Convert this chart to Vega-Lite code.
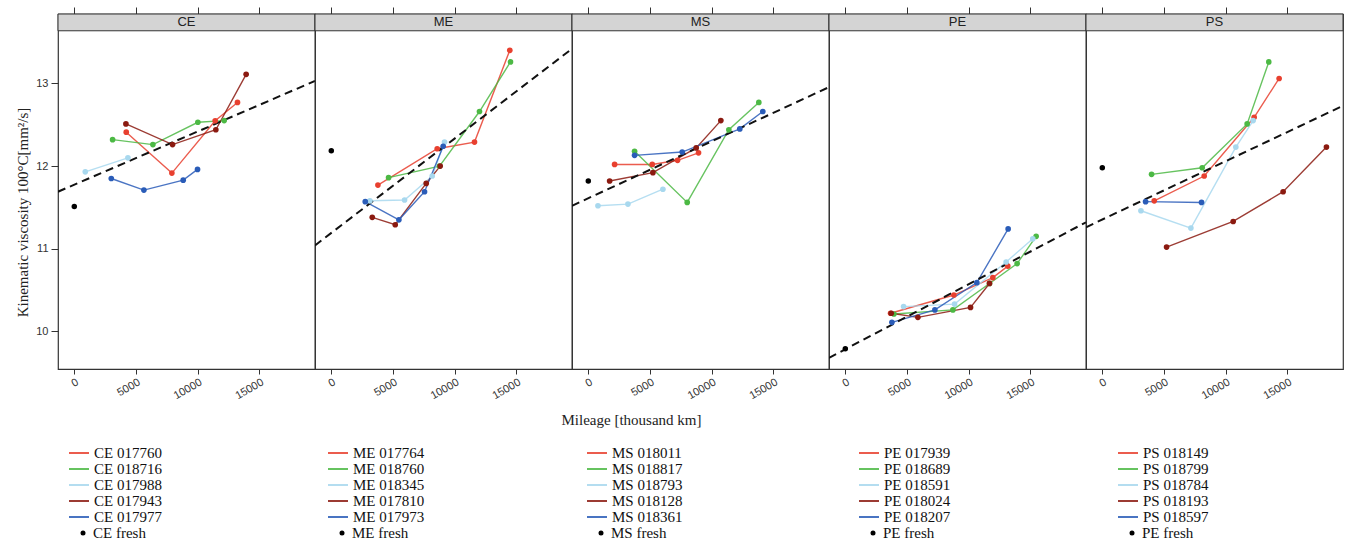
{
"$schema": "https://vega.github.io/schema/vega-lite/v6.json",
"padding": {"left": 15, "top": 5, "right": 5, "bottom": 0},
"background": "white",
"datasets": {
 "fit": [
  {"panel":"CE","mileage":-1320,"viscosity":11.69},{"panel":"CE","mileage":19500,"viscosity":13.03},
  {"panel":"ME","mileage":-1320,"viscosity":11.04},{"panel":"ME","mileage":19500,"viscosity":13.42},
  {"panel":"MS","mileage":-1320,"viscosity":11.52},{"panel":"MS","mileage":19500,"viscosity":12.955},
  {"panel":"PE","mileage":-1320,"viscosity":9.68},{"panel":"PE","mileage":19500,"viscosity":11.32},
  {"panel":"PS","mileage":-1320,"viscosity":11.26},{"panel":"PS","mileage":19500,"viscosity":12.73}
 ],
 "fresh": [
  {"panel":"CE","series":"CE fresh","mileage":0,"viscosity":11.51},
  {"panel":"ME","series":"ME fresh","mileage":0,"viscosity":12.185},
  {"panel":"MS","series":"MS fresh","mileage":0,"viscosity":11.82},
  {"panel":"PE","series":"PE fresh","mileage":0,"viscosity":9.79},
  {"panel":"PS","series":"PE fresh","mileage":0,"viscosity":11.98}
 ],
 "obs": [
  {"panel":"CE","series":"CE 017760","mileage":4209,"viscosity":12.41},
  {"panel":"CE","series":"CE 017760","mileage":7905,"viscosity":11.915},
  {"panel":"CE","series":"CE 017760","mileage":11413,"viscosity":12.548},
  {"panel":"CE","series":"CE 017760","mileage":13220,"viscosity":12.77},
  {"panel":"CE","series":"CE 018716","mileage":3103,"viscosity":12.32},
  {"panel":"CE","series":"CE 018716","mileage":6367,"viscosity":12.26},
  {"panel":"CE","series":"CE 018716","mileage":10009,"viscosity":12.53},
  {"panel":"CE","series":"CE 018716","mileage":12141,"viscosity":12.55},
  {"panel":"CE","series":"CE 017988","mileage":890,"viscosity":11.93},
  {"panel":"CE","series":"CE 017988","mileage":4344,"viscosity":12.10},
  {"panel":"CE","series":"CE 017943","mileage":4182,"viscosity":12.51},
  {"panel":"CE","series":"CE 017943","mileage":7959,"viscosity":12.26},
  {"panel":"CE","series":"CE 017943","mileage":11467,"viscosity":12.44},
  {"panel":"CE","series":"CE 017943","mileage":13922,"viscosity":13.11},
  {"panel":"CE","series":"CE 017977","mileage":2995,"viscosity":11.85},
  {"panel":"CE","series":"CE 017977","mileage":5639,"viscosity":11.71},
  {"panel":"CE","series":"CE 017977","mileage":8822,"viscosity":11.83},
  {"panel":"CE","series":"CE 017977","mileage":9983,"viscosity":11.96},

  {"panel":"ME","series":"ME 017764","mileage":3777,"viscosity":11.77},
  {"panel":"ME","series":"ME 017764","mileage":8580,"viscosity":12.21},
  {"panel":"ME","series":"ME 017764","mileage":11601,"viscosity":12.29},
  {"panel":"ME","series":"ME 017764","mileage":14461,"viscosity":13.40},
  {"panel":"ME","series":"ME 018760","mileage":4641,"viscosity":11.86},
  {"panel":"ME","series":"ME 018760","mileage":8769,"viscosity":12.0},
  {"panel":"ME","series":"ME 018760","mileage":12006,"viscosity":12.66},
  {"panel":"ME","series":"ME 018760","mileage":14515,"viscosity":13.26},
  {"panel":"ME","series":"ME 018345","mileage":3130,"viscosity":11.58},
  {"panel":"ME","series":"ME 018345","mileage":5936,"viscosity":11.59},
  {"panel":"ME","series":"ME 018345","mileage":8175,"viscosity":11.88},
  {"panel":"ME","series":"ME 018345","mileage":9173,"viscosity":12.29},
  {"panel":"ME","series":"ME 017810","mileage":3318,"viscosity":11.38},
  {"panel":"ME","series":"ME 017810","mileage":5180,"viscosity":11.29},
  {"panel":"ME","series":"ME 017810","mileage":7689,"viscosity":11.79},
  {"panel":"ME","series":"ME 017810","mileage":8823,"viscosity":12.0},
  {"panel":"ME","series":"ME 017973","mileage":2752,"viscosity":11.57},
  {"panel":"ME","series":"ME 017973","mileage":5477,"viscosity":11.35},
  {"panel":"ME","series":"ME 017973","mileage":7554,"viscosity":11.69},
  {"panel":"ME","series":"ME 017973","mileage":9065,"viscosity":12.24},

  {"panel":"MS","series":"MS 018011","mileage":2131,"viscosity":12.02},
  {"panel":"MS","series":"MS 018011","mileage":5180,"viscosity":12.02},
  {"panel":"MS","series":"MS 018011","mileage":7231,"viscosity":12.07},
  {"panel":"MS","series":"MS 018011","mileage":8930,"viscosity":12.16},
  {"panel":"MS","series":"MS 018817","mileage":3750,"viscosity":12.18},
  {"panel":"MS","series":"MS 018817","mileage":8013,"viscosity":11.56},
  {"panel":"MS","series":"MS 018817","mileage":11386,"viscosity":12.44},
  {"panel":"MS","series":"MS 018817","mileage":13814,"viscosity":12.77},
  {"panel":"MS","series":"MS 018793","mileage":782,"viscosity":11.52},
  {"panel":"MS","series":"MS 018793","mileage":3211,"viscosity":11.54},
  {"panel":"MS","series":"MS 018793","mileage":6044,"viscosity":11.72},
  {"panel":"MS","series":"MS 018128","mileage":1727,"viscosity":11.82},
  {"panel":"MS","series":"MS 018128","mileage":5234,"viscosity":11.92},
  {"panel":"MS","series":"MS 018128","mileage":8742,"viscosity":12.22},
  {"panel":"MS","series":"MS 018128","mileage":10738,"viscosity":12.55},
  {"panel":"MS","series":"MS 018361","mileage":3750,"viscosity":12.13},
  {"panel":"MS","series":"MS 018361","mileage":7608,"viscosity":12.17},
  {"panel":"MS","series":"MS 018361","mileage":12276,"viscosity":12.45},
  {"panel":"MS","series":"MS 018361","mileage":14137,"viscosity":12.66},

  {"panel":"PE","series":"PE 017939","mileage":3669,"viscosity":10.22},
  {"panel":"PE","series":"PE 017939","mileage":8796,"viscosity":10.44},
  {"panel":"PE","series":"PE 017939","mileage":11953,"viscosity":10.65},
  {"panel":"PE","series":"PE 017939","mileage":13167,"viscosity":10.79},
  {"panel":"PE","series":"PE 018689","mileage":3939,"viscosity":10.21},
  {"panel":"PE","series":"PE 018689","mileage":8715,"viscosity":10.26},
  {"panel":"PE","series":"PE 018689","mileage":11683,"viscosity":10.58},
  {"panel":"PE","series":"PE 018689","mileage":13922,"viscosity":10.82},
  {"panel":"PE","series":"PE 018689","mileage":15460,"viscosity":11.15},
  {"panel":"PE","series":"PE 018591","mileage":4722,"viscosity":10.30},
  {"panel":"PE","series":"PE 018591","mileage":8850,"viscosity":10.33},
  {"panel":"PE","series":"PE 018591","mileage":13032,"viscosity":10.84},
  {"panel":"PE","series":"PE 018591","mileage":15190,"viscosity":11.12},
  {"panel":"PE","series":"PE 018024","mileage":3723,"viscosity":10.22},
  {"panel":"PE","series":"PE 018024","mileage":5882,"viscosity":10.17},
  {"panel":"PE","series":"PE 018024","mileage":10145,"viscosity":10.29},
  {"panel":"PE","series":"PE 018024","mileage":11683,"viscosity":10.58},
  {"panel":"PE","series":"PE 018207","mileage":3777,"viscosity":10.11},
  {"panel":"PE","series":"PE 018207","mileage":7258,"viscosity":10.26},
  {"panel":"PE","series":"PE 018207","mileage":10657,"viscosity":10.59},
  {"panel":"PE","series":"PE 018207","mileage":13193,"viscosity":11.24},

  {"panel":"PS","series":"PS 018149","mileage":4209,"viscosity":11.58},
  {"panel":"PS","series":"PS 018149","mileage":8256,"viscosity":11.88},
  {"panel":"PS","series":"PS 018149","mileage":12303,"viscosity":12.59},
  {"panel":"PS","series":"PS 018149","mileage":14326,"viscosity":13.06},
  {"panel":"PS","series":"PS 018799","mileage":3993,"viscosity":11.90},
  {"panel":"PS","series":"PS 018799","mileage":8094,"viscosity":11.98},
  {"panel":"PS","series":"PS 018799","mileage":11736,"viscosity":12.51},
  {"panel":"PS","series":"PS 018799","mileage":13490,"viscosity":13.26},
  {"panel":"PS","series":"PS 018784","mileage":3130,"viscosity":11.46},
  {"panel":"PS","series":"PS 018784","mileage":7177,"viscosity":11.25},
  {"panel":"PS","series":"PS 018784","mileage":10819,"viscosity":12.23},
  {"panel":"PS","series":"PS 018784","mileage":12222,"viscosity":12.55},
  {"panel":"PS","series":"PS 018193","mileage":5207,"viscosity":11.02},
  {"panel":"PS","series":"PS 018193","mileage":10603,"viscosity":11.33},
  {"panel":"PS","series":"PS 018193","mileage":14650,"viscosity":11.69},
  {"panel":"PS","series":"PS 018193","mileage":18158,"viscosity":12.23},
  {"panel":"PS","series":"PS 018597","mileage":3507,"viscosity":11.57},
  {"panel":"PS","series":"PS 018597","mileage":8040,"viscosity":11.56}
 ]
},
"bounds": "flush",
"hconcat": [
 {
  "width": 257, "height": 355,
  "resolve": {"axis": {"x": "independent"}},
  "layer": [
   {"data":{"values":[{"panel":"CE"}]},"mark":{"type":"rect","fill":"#d4d4d4","stroke":"#333","strokeWidth":1},
    "encoding":{"x":{"datum":-1320,"type":"quantitative","scale":{"domain":[-1320,19500],"nice":false,"zero":false},"axis":{"orient":"top","values":[0,5000,10000,15000],"labels":false,"grid":false,"tickSize":7,"title":null}},"x2":{"datum":19500},
     "y":{"datum":13.637,"type":"quantitative","scale":{"domain":[9.545,13.84],"nice":false,"zero":false},"title":"Kinematic viscosity 100°C[mm²/s]"},"y2":{"datum":13.84}}},
   {"data":{"values":[{"panel":"CE"}]},"mark":{"type":"text","font":"Liberation Sans","fontSize":13,"color":"#222"},
    "encoding":{"x":{"datum":9090,"type":"quantitative","axis":null},"y":{"datum":13.738,"type":"quantitative","title":"Kinematic viscosity 100°C[mm²/s]"},"text":{"field":"panel"}}},
   {"data":{"name":"obs"},"transform":[{"filter":"datum.panel==='CE'"}],"mark":{"type":"line","strokeWidth":1.4,"opacity":0.85},
    "encoding":{
     "x":{"field":"mileage","type":"quantitative","title":"Mileage [thousand km]","axis":{"values":[0,5000,10000,15000],"format":"d","labelAngle":-30,"titleColor":"transparent"}},
     "y":{"field":"viscosity","type":"quantitative","title":"Kinematic viscosity 100°C[mm²/s]","axis":{"values":[10,11,12,13],"format":"d","tickSize":7,"labelPadding":3,"titlePadding":5,"titleY":198}},
     "color":{"field":"series","type":"nominal","scale":{"domain":["CE 017760","CE 018716","CE 017988","CE 017943","CE 017977"],"range":["#e8402f","#4cb944","#a8d8ee","#8b1a10","#2a5cb8"]},
      "legend":{"orient":"none","legendX":10,"legendY":432,"title":null,"symbolType":"stroke","symbolSize":400,"symbolStrokeWidth":2,"clipHeight":14,"rowPadding":1,"labelFont":"Liberation Serif","labelFontSize":15,"labelColor":"#111"}}}},
   {"data":{"name":"fit"},"transform":[{"filter":"datum.panel==='CE'"}],"mark":{"type":"line","color":"#111","strokeWidth":2,"strokeDash":[8,5],"clip":true},
    "encoding":{"x":{"field":"mileage","type":"quantitative","axis":null},"y":{"field":"viscosity","type":"quantitative","title":"Kinematic viscosity 100°C[mm²/s]"}}},
   {"data":{"name":"obs"},"transform":[{"filter":"datum.panel==='CE'"}],"mark":{"type":"point","filled":true,"size":32,"opacity":1},
    "encoding":{"x":{"field":"mileage","type":"quantitative","axis":null},"y":{"field":"viscosity","type":"quantitative","title":"Kinematic viscosity 100°C[mm²/s]"},"color":{"field":"series","type":"nominal"}}},
   {"data":{"name":"fresh"},"transform":[{"filter":"datum.panel==='CE'"}],"mark":{"type":"point","filled":true,"size":30,"opacity":1,"color":"#000000"},
    "encoding":{"x":{"field":"mileage","type":"quantitative","axis":null},"y":{"field":"viscosity","type":"quantitative","title":"Kinematic viscosity 100°C[mm²/s]"},
     "shape":{"field":"series","type":"nominal","scale":{"domain":["CE fresh"],"range":["circle"]},
      "legend":{"orient":"none","legendX":17.5,"legendY":512,"title":null,"symbolSize":25,"symbolFillColor":"#000000","symbolStrokeColor":"#000000","symbolStrokeWidth":0,"labelOffset":2.5,"clipHeight":14,"labelFont":"Liberation Serif","labelFontSize":15,"labelColor":"#111"}}}}
  ]
 },
 {
  "width": 257, "height": 355,
  "resolve": {"axis": {"x": "independent"}},
  "layer": [
   {"data":{"values":[{"panel":"ME"}]},"mark":{"type":"rect","fill":"#d4d4d4","stroke":"#333","strokeWidth":1},
    "encoding":{"x":{"datum":-1320,"type":"quantitative","scale":{"domain":[-1320,19500],"nice":false,"zero":false},"axis":{"orient":"top","values":[0,5000,10000,15000],"labels":false,"grid":false,"tickSize":7,"title":null}},"x2":{"datum":19500},
     "y":{"datum":13.637,"type":"quantitative","scale":{"domain":[9.545,13.84],"nice":false,"zero":false},"axis":null},"y2":{"datum":13.84}}},
   {"data":{"values":[{"panel":"ME"}]},"mark":{"type":"text","font":"Liberation Sans","fontSize":13,"color":"#222"},
    "encoding":{"x":{"datum":9090,"type":"quantitative","axis":null},"y":{"datum":13.738,"type":"quantitative","axis":null},"text":{"field":"panel"}}},
   {"data":{"name":"obs"},"transform":[{"filter":"datum.panel==='ME'"}],"mark":{"type":"line","strokeWidth":1.4,"opacity":0.85},
    "encoding":{
     "x":{"field":"mileage","type":"quantitative","title":"Mileage [thousand km]","axis":{"values":[0,5000,10000,15000],"format":"d","labelAngle":-30,"titleColor":"transparent"}},
     "y":{"field":"viscosity","type":"quantitative","axis":{"values":[10,11,12,13],"labels":false,"ticks":false,"grid":true,"title":null}},
     "color":{"field":"series","type":"nominal","scale":{"domain":["ME 017764","ME 018760","ME 018345","ME 017810","ME 017973"],"range":["#e8402f","#4cb944","#a8d8ee","#8b1a10","#2a5cb8"]},
      "legend":{"orient":"none","legendX":12,"legendY":432,"title":null,"symbolType":"stroke","symbolSize":400,"symbolStrokeWidth":2,"clipHeight":14,"rowPadding":1,"labelFont":"Liberation Serif","labelFontSize":15,"labelColor":"#111"}}}},
   {"data":{"name":"fit"},"transform":[{"filter":"datum.panel==='ME'"}],"mark":{"type":"line","color":"#111","strokeWidth":2,"strokeDash":[8,5],"clip":true},
    "encoding":{"x":{"field":"mileage","type":"quantitative","axis":null},"y":{"field":"viscosity","type":"quantitative","axis":null}}},
   {"data":{"name":"obs"},"transform":[{"filter":"datum.panel==='ME'"}],"mark":{"type":"point","filled":true,"size":32,"opacity":1},
    "encoding":{"x":{"field":"mileage","type":"quantitative","axis":null},"y":{"field":"viscosity","type":"quantitative","axis":null},"color":{"field":"series","type":"nominal"}}},
   {"data":{"name":"fresh"},"transform":[{"filter":"datum.panel==='ME'"}],"mark":{"type":"point","filled":true,"size":30,"opacity":1,"color":"#000000"},
    "encoding":{"x":{"field":"mileage","type":"quantitative","axis":null},"y":{"field":"viscosity","type":"quantitative","axis":null},
     "shape":{"field":"series","type":"nominal","scale":{"domain":["ME fresh"],"range":["circle"]},
      "legend":{"orient":"none","legendX":19.5,"legendY":512,"title":null,"symbolSize":25,"symbolFillColor":"#000000","symbolStrokeColor":"#000000","symbolStrokeWidth":0,"labelOffset":2.5,"clipHeight":14,"labelFont":"Liberation Serif","labelFontSize":15,"labelColor":"#111"}}}}
  ]
 },
 {
  "width": 257, "height": 355,
  "resolve": {"axis": {"x": "independent"}},
  "layer": [
   {"data":{"values":[{"panel":"MS"}]},"mark":{"type":"rect","fill":"#d4d4d4","stroke":"#333","strokeWidth":1},
    "encoding":{"x":{"datum":-1320,"type":"quantitative","scale":{"domain":[-1320,19500],"nice":false,"zero":false},"axis":{"orient":"top","values":[0,5000,10000,15000],"labels":false,"grid":false,"tickSize":7,"title":null}},"x2":{"datum":19500},
     "y":{"datum":13.637,"type":"quantitative","scale":{"domain":[9.545,13.84],"nice":false,"zero":false},"axis":null},"y2":{"datum":13.84}}},
   {"data":{"values":[{"panel":"MS"}]},"mark":{"type":"text","font":"Liberation Sans","fontSize":13,"color":"#222"},
    "encoding":{"x":{"datum":9090,"type":"quantitative","axis":null},"y":{"datum":13.738,"type":"quantitative","axis":null},"text":{"field":"panel"}}},
   {"data":{"name":"obs"},"transform":[{"filter":"datum.panel==='MS'"}],"mark":{"type":"line","strokeWidth":1.4,"opacity":0.85},
    "encoding":{
     "x":{"field":"mileage","type":"quantitative","title":"Mileage [thousand km]","axis":{"values":[0,5000,10000,15000],"format":"d","labelAngle":-30,"titleX":59,"titleAlign":"center"}},
     "y":{"field":"viscosity","type":"quantitative","axis":{"values":[10,11,12,13],"labels":false,"ticks":false,"grid":true,"title":null}},
     "color":{"field":"series","type":"nominal","scale":{"domain":["MS 018011","MS 018817","MS 018793","MS 018128","MS 018361"],"range":["#e8402f","#4cb944","#a8d8ee","#8b1a10","#2a5cb8"]},
      "legend":{"orient":"none","legendX":14,"legendY":432,"title":null,"symbolType":"stroke","symbolSize":400,"symbolStrokeWidth":2,"clipHeight":14,"rowPadding":1,"labelFont":"Liberation Serif","labelFontSize":15,"labelColor":"#111"}}}},
   {"data":{"name":"fit"},"transform":[{"filter":"datum.panel==='MS'"}],"mark":{"type":"line","color":"#111","strokeWidth":2,"strokeDash":[8,5],"clip":true},
    "encoding":{"x":{"field":"mileage","type":"quantitative","axis":null},"y":{"field":"viscosity","type":"quantitative","axis":null}}},
   {"data":{"name":"obs"},"transform":[{"filter":"datum.panel==='MS'"}],"mark":{"type":"point","filled":true,"size":32,"opacity":1},
    "encoding":{"x":{"field":"mileage","type":"quantitative","axis":null},"y":{"field":"viscosity","type":"quantitative","axis":null},"color":{"field":"series","type":"nominal"}}},
   {"data":{"name":"fresh"},"transform":[{"filter":"datum.panel==='MS'"}],"mark":{"type":"point","filled":true,"size":30,"opacity":1,"color":"#000000"},
    "encoding":{"x":{"field":"mileage","type":"quantitative","axis":null},"y":{"field":"viscosity","type":"quantitative","axis":null},
     "shape":{"field":"series","type":"nominal","scale":{"domain":["MS fresh"],"range":["circle"]},
      "legend":{"orient":"none","legendX":21.5,"legendY":512,"title":null,"symbolSize":25,"symbolFillColor":"#000000","symbolStrokeColor":"#000000","symbolStrokeWidth":0,"labelOffset":2.5,"clipHeight":14,"labelFont":"Liberation Serif","labelFontSize":15,"labelColor":"#111"}}}}
  ]
 },
 {
  "width": 257, "height": 355,
  "resolve": {"axis": {"x": "independent"}},
  "layer": [
   {"data":{"values":[{"panel":"PE"}]},"mark":{"type":"rect","fill":"#d4d4d4","stroke":"#333","strokeWidth":1},
    "encoding":{"x":{"datum":-1320,"type":"quantitative","scale":{"domain":[-1320,19500],"nice":false,"zero":false},"axis":{"orient":"top","values":[0,5000,10000,15000],"labels":false,"grid":false,"tickSize":7,"title":null}},"x2":{"datum":19500},
     "y":{"datum":13.637,"type":"quantitative","scale":{"domain":[9.545,13.84],"nice":false,"zero":false},"axis":null},"y2":{"datum":13.84}}},
   {"data":{"values":[{"panel":"PE"}]},"mark":{"type":"text","font":"Liberation Sans","fontSize":13,"color":"#222"},
    "encoding":{"x":{"datum":9090,"type":"quantitative","axis":null},"y":{"datum":13.738,"type":"quantitative","axis":null},"text":{"field":"panel"}}},
   {"data":{"name":"obs"},"transform":[{"filter":"datum.panel==='PE'"}],"mark":{"type":"line","strokeWidth":1.4,"opacity":0.85},
    "encoding":{
     "x":{"field":"mileage","type":"quantitative","title":"Mileage [thousand km]","axis":{"values":[0,5000,10000,15000],"format":"d","labelAngle":-30,"titleColor":"transparent"}},
     "y":{"field":"viscosity","type":"quantitative","axis":{"values":[10,11,12,13],"labels":false,"ticks":false,"grid":true,"title":null}},
     "color":{"field":"series","type":"nominal","scale":{"domain":["PE 017939","PE 018689","PE 018591","PE 018024","PE 018207"],"range":["#e8402f","#4cb944","#a8d8ee","#8b1a10","#2a5cb8"]},
      "legend":{"orient":"none","legendX":29,"legendY":432,"title":null,"symbolType":"stroke","symbolSize":400,"symbolStrokeWidth":2,"clipHeight":14,"rowPadding":1,"labelFont":"Liberation Serif","labelFontSize":15,"labelColor":"#111"}}}},
   {"data":{"name":"fit"},"transform":[{"filter":"datum.panel==='PE'"}],"mark":{"type":"line","color":"#111","strokeWidth":2,"strokeDash":[8,5],"clip":true},
    "encoding":{"x":{"field":"mileage","type":"quantitative","axis":null},"y":{"field":"viscosity","type":"quantitative","axis":null}}},
   {"data":{"name":"obs"},"transform":[{"filter":"datum.panel==='PE'"}],"mark":{"type":"point","filled":true,"size":32,"opacity":1},
    "encoding":{"x":{"field":"mileage","type":"quantitative","axis":null},"y":{"field":"viscosity","type":"quantitative","axis":null},"color":{"field":"series","type":"nominal"}}},
   {"data":{"name":"fresh"},"transform":[{"filter":"datum.panel==='PE'"}],"mark":{"type":"point","filled":true,"size":30,"opacity":1,"color":"#000000"},
    "encoding":{"x":{"field":"mileage","type":"quantitative","axis":null},"y":{"field":"viscosity","type":"quantitative","axis":null},
     "shape":{"field":"series","type":"nominal","scale":{"domain":["PE fresh"],"range":["circle"]},
      "legend":{"orient":"none","legendX":36.5,"legendY":512,"title":null,"symbolSize":25,"symbolFillColor":"#000000","symbolStrokeColor":"#000000","symbolStrokeWidth":0,"labelOffset":2.5,"clipHeight":14,"labelFont":"Liberation Serif","labelFontSize":15,"labelColor":"#111"}}}}
  ]
 },
 {
  "width": 257, "height": 355,
  "resolve": {"axis": {"x": "independent"}},
  "layer": [
   {"data":{"values":[{"panel":"PS"}]},"mark":{"type":"rect","fill":"#d4d4d4","stroke":"#333","strokeWidth":1},
    "encoding":{"x":{"datum":-1320,"type":"quantitative","scale":{"domain":[-1320,19500],"nice":false,"zero":false},"axis":{"orient":"top","values":[0,5000,10000,15000],"labels":false,"grid":false,"tickSize":7,"title":null}},"x2":{"datum":19500},
     "y":{"datum":13.637,"type":"quantitative","scale":{"domain":[9.545,13.84],"nice":false,"zero":false},"axis":null},"y2":{"datum":13.84}}},
   {"data":{"values":[{"panel":"PS"}]},"mark":{"type":"text","font":"Liberation Sans","fontSize":13,"color":"#222"},
    "encoding":{"x":{"datum":9090,"type":"quantitative","axis":null},"y":{"datum":13.738,"type":"quantitative","axis":null},"text":{"field":"panel"}}},
   {"data":{"name":"obs"},"transform":[{"filter":"datum.panel==='PS'"}],"mark":{"type":"line","strokeWidth":1.4,"opacity":0.85},
    "encoding":{
     "x":{"field":"mileage","type":"quantitative","title":"Mileage [thousand km]","axis":{"values":[0,5000,10000,15000],"format":"d","labelAngle":-30,"titleColor":"transparent"}},
     "y":{"field":"viscosity","type":"quantitative","axis":{"orient":"right","values":[10,11,12,13],"labels":false,"ticks":true,"tickSize":6,"grid":true,"title":null}},
     "color":{"field":"series","type":"nominal","scale":{"domain":["PS 018149","PS 018799","PS 018784","PS 018193","PS 018597"],"range":["#e8402f","#4cb944","#a8d8ee","#8b1a10","#2a5cb8"]},
      "legend":{"orient":"none","legendX":31,"legendY":432,"title":null,"symbolType":"stroke","symbolSize":400,"symbolStrokeWidth":2,"clipHeight":14,"rowPadding":1,"labelFont":"Liberation Serif","labelFontSize":15,"labelColor":"#111"}}}},
   {"data":{"name":"fit"},"transform":[{"filter":"datum.panel==='PS'"}],"mark":{"type":"line","color":"#111","strokeWidth":2,"strokeDash":[8,5],"clip":true},
    "encoding":{"x":{"field":"mileage","type":"quantitative","axis":null},"y":{"field":"viscosity","type":"quantitative","axis":null}}},
   {"data":{"name":"obs"},"transform":[{"filter":"datum.panel==='PS'"}],"mark":{"type":"point","filled":true,"size":32,"opacity":1},
    "encoding":{"x":{"field":"mileage","type":"quantitative","axis":null},"y":{"field":"viscosity","type":"quantitative","axis":null},"color":{"field":"series","type":"nominal"}}},
   {"data":{"name":"fresh"},"transform":[{"filter":"datum.panel==='PS'"}],"mark":{"type":"point","filled":true,"size":30,"opacity":1,"color":"#000000"},
    "encoding":{"x":{"field":"mileage","type":"quantitative","axis":null},"y":{"field":"viscosity","type":"quantitative","axis":null},
     "shape":{"field":"series","type":"nominal","scale":{"domain":["PE fresh"],"range":["circle"]},
      "legend":{"orient":"none","legendX":38.5,"legendY":512,"title":null,"symbolSize":25,"symbolFillColor":"#000000","symbolStrokeColor":"#000000","symbolStrokeWidth":0,"labelOffset":2.5,"clipHeight":14,"labelFont":"Liberation Serif","labelFontSize":15,"labelColor":"#111"}}}}
  ]
 }
],
"resolve": {"scale": {"color": "independent", "shape": "independent"}, "legend": {"color": "independent", "shape": "independent"}},
"config": {
 "font": "Liberation Sans",
 "view": {"stroke": "#333", "strokeWidth": 1.2},
 "concat": {"spacing": 0},
 "axis": {"labelFont": "Liberation Sans", "labelFontSize": 11, "labelColor": "#333", "titleFont": "Liberation Serif", "titleFontSize": 15, "titleFontWeight": "normal", "titleColor": "#222", "tickColor": "#333", "tickSize": 5, "gridColor": "#e4e4e4", "domain": false, "titlePadding": 12},
 "legend": {"padding": 0}
}
}
